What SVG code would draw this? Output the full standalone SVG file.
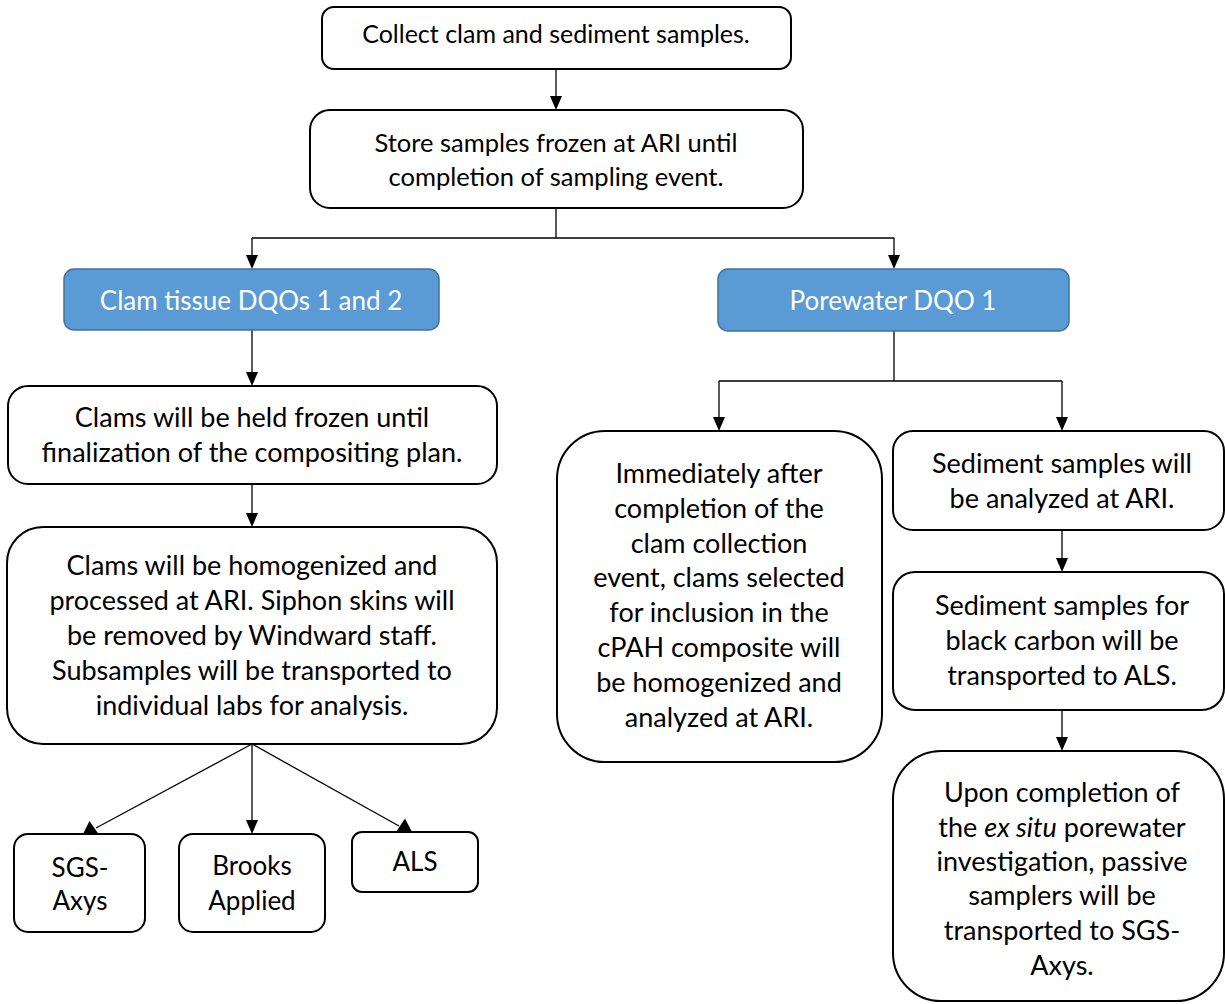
<svg xmlns="http://www.w3.org/2000/svg" width="1225" height="1004" viewBox="0 0 1225 1004">
  <defs>
    <style>
      .box { fill: #ffffff; stroke: #000000; stroke-width: 2; }
      .dqo { fill: #5b9bd5; stroke: #41719c; stroke-width: 1.5; }
      .lbl { font-family: Lato, "Open Sans", "Liberation Sans", sans-serif; font-size: 27px; fill: #000000; text-anchor: middle; }
      .lbl-top { font-size: 25px; }
      .lbl-mid { font-size: 25.5px; }
      .lbl-lab { font-size: 26px; }
      .lbl-dqo { font-size: 26px; fill: #ffffff; }
      .wire { fill: none; stroke: #000000; stroke-width: 1.3; }
      .tip { fill: #000000; }
    </style>
  </defs>
  <rect width="1225" height="1004" fill="#ffffff"/>

  <!-- connectors: lines plus filled triangular heads -->
  <g id="connectors">
    <path class="wire" d="M556,69 V96"/>
    <path class="tip" d="M550,96 L562,96 L556,110 Z"/>
    <path class="wire" d="M556,208 V238 M252,238 H894"/>
    <path class="wire" d="M252,238 V255"/>
    <path class="tip" d="M246,255 L258,255 L252,269 Z"/>
    <path class="wire" d="M894,238 V255"/>
    <path class="tip" d="M888,255 L900,255 L894,269 Z"/>

    <path class="wire" d="M252,330 V372"/>
    <path class="tip" d="M246,372 L258,372 L252,386 Z"/>
    <path class="wire" d="M252,484 V513"/>
    <path class="tip" d="M246,513 L258,513 L252,527 Z"/>

    <!-- fan-out to the labs -->
    <path class="wire" d="M252,744 L96,828"/>
    <path class="tip" d="M89.5,821 L98.5,834 L83,834 Z"/>
    <path class="wire" d="M252,744 V820"/>
    <path class="tip" d="M246,820 L258,820 L252,834 Z"/>
    <path class="wire" d="M252,744 L399,826"/>
    <path class="tip" d="M405,818.5 L412,832 L396,832 Z"/>

    <!-- porewater branch -->
    <path class="wire" d="M894,331 V381 M719,381 H1062"/>
    <path class="wire" d="M719,381 V417"/>
    <path class="tip" d="M713,417 L725,417 L719,431 Z"/>
    <path class="wire" d="M1062,381 V417"/>
    <path class="tip" d="M1056,417 L1068,417 L1062,431 Z"/>
    <path class="wire" d="M1062,530 V558"/>
    <path class="tip" d="M1056,558 L1068,558 L1062,572 Z"/>
    <path class="wire" d="M1062,710 V737"/>
    <path class="tip" d="M1056,737 L1068,737 L1062,751 Z"/>
  </g>

  <g id="collect">
    <rect class="box" x="322" y="7" width="469" height="62" rx="12"/>
    <text class="lbl lbl-top" x="556" y="43">Collect clam and sediment samples.</text>
  </g>

  <g id="store">
    <rect class="box" x="310" y="110" width="493" height="98" rx="20"/>
    <text class="lbl lbl-mid" x="556" y="152">Store samples frozen at ARI until</text>
    <text class="lbl lbl-mid" x="556" y="186">completion of sampling event.</text>
  </g>

  <g id="dqo-clam">
    <rect class="dqo" x="64" y="269" width="375" height="61" rx="10"/>
    <text class="lbl lbl-dqo" x="251" y="310">Clam tissue DQOs 1 and 2</text>
  </g>

  <g id="dqo-porewater">
    <rect class="dqo" x="718" y="269" width="351" height="62" rx="10"/>
    <text class="lbl lbl-dqo" x="893" y="310">Porewater DQO 1</text>
  </g>

  <g id="hold-frozen">
    <rect class="box" x="8" y="386" width="489" height="98" rx="20"/>
    <text class="lbl" x="252" y="427">Clams will be held frozen until</text>
    <text class="lbl" x="252" y="462">finalization of the compositing plan.</text>
  </g>

  <g id="homogenize">
    <rect class="box" x="7" y="527" width="490" height="217" rx="36"/>
    <text class="lbl" x="252" y="575">Clams will be homogenized and</text>
    <text class="lbl" x="252" y="610">processed at ARI. Siphon skins will</text>
    <text class="lbl" x="252" y="645">be removed by Windward staff.</text>
    <text class="lbl" x="252" y="680">Subsamples will be transported to</text>
    <text class="lbl" x="252" y="715">individual labs for analysis.</text>
  </g>

  <g id="lab-sgs">
    <rect class="box" x="14" y="834" width="131" height="98" rx="14"/>
    <text class="lbl lbl-lab" x="80" y="877">SGS-</text>
    <text class="lbl lbl-lab" x="80" y="910">Axys</text>
  </g>

  <g id="lab-brooks">
    <rect class="box" x="179" y="834" width="146" height="98" rx="14"/>
    <text class="lbl lbl-lab" x="252" y="875">Brooks</text>
    <text class="lbl lbl-lab" x="252" y="910">Applied</text>
  </g>

  <g id="lab-als">
    <rect class="box" x="352" y="832" width="126" height="60" rx="10"/>
    <text class="lbl lbl-lab" x="415" y="871">ALS</text>
  </g>

  <g id="cpah">
    <rect class="box" x="557" y="431" width="325" height="331" rx="48"/>
    <text class="lbl" x="719" y="483">Immediately after</text>
    <text class="lbl" x="719" y="518">completion of the</text>
    <text class="lbl" x="719" y="553">clam collection</text>
    <text class="lbl" x="719" y="587">event, clams selected</text>
    <text class="lbl" x="719" y="622">for inclusion in the</text>
    <text class="lbl" x="719" y="657">cPAH composite will</text>
    <text class="lbl" x="719" y="692">be homogenized and</text>
    <text class="lbl" x="719" y="727">analyzed at ARI.</text>
  </g>

  <g id="sediment-ari">
    <rect class="box" x="893" y="431" width="331" height="99" rx="20"/>
    <text class="lbl" x="1062" y="473">Sediment samples will</text>
    <text class="lbl" x="1062" y="508">be analyzed at ARI.</text>
  </g>

  <g id="sediment-als">
    <rect class="box" x="893" y="572" width="331" height="138" rx="22"/>
    <text class="lbl" x="1062" y="615">Sediment samples for</text>
    <text class="lbl" x="1062" y="650">black carbon will be</text>
    <text class="lbl" x="1062" y="685">transported to ALS.</text>
  </g>

  <g id="passive-samplers">
    <rect class="box" x="893" y="751" width="331" height="250" rx="48"/>
    <text class="lbl" x="1062" y="802">Upon completion of</text>
    <text class="lbl" x="1062" y="837">the <tspan font-style="italic">ex situ</tspan> porewater</text>
    <text class="lbl" x="1062" y="871">investigation, passive</text>
    <text class="lbl" x="1062" y="905">samplers will be</text>
    <text class="lbl" x="1062" y="940">transported to SGS-</text>
    <text class="lbl" x="1062" y="975">Axys.</text>
  </g>
</svg>
